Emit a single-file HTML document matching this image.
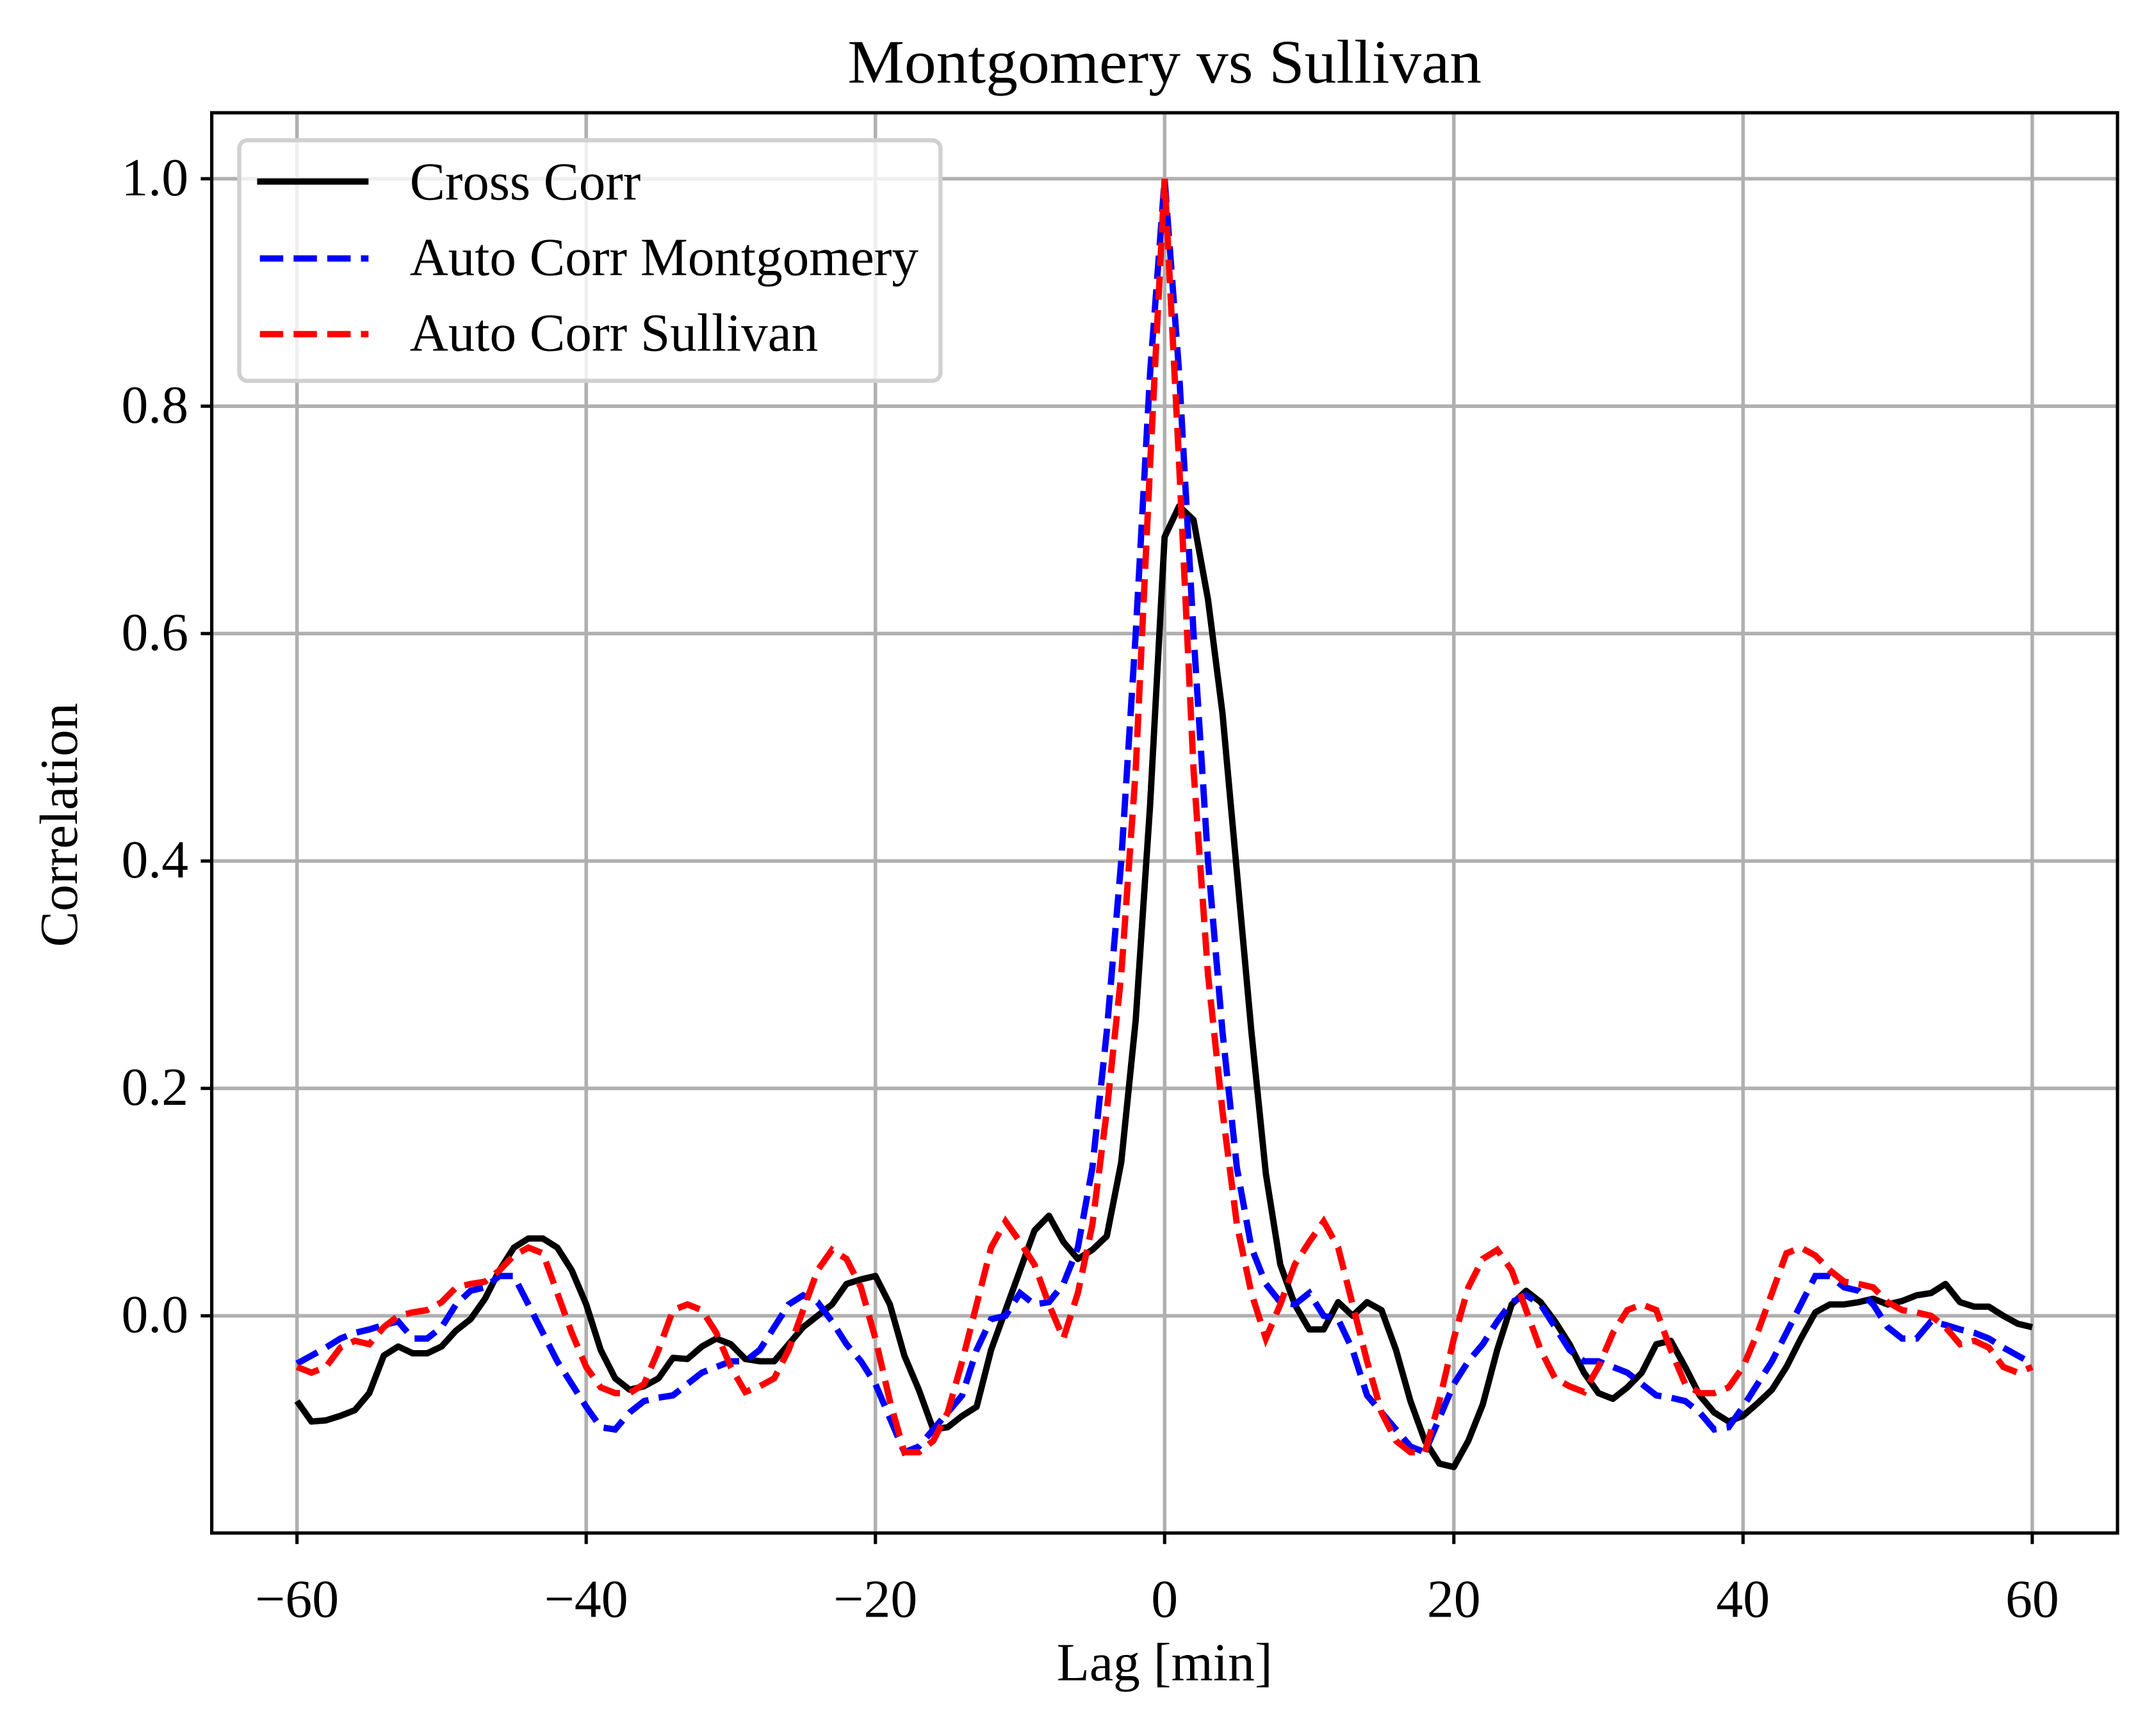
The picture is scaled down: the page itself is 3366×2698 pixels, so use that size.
<!DOCTYPE html>
<html><head><meta charset="utf-8"><style>
html,body{margin:0;padding:0;background:#fff;}
svg{display:block;}
text{font-family:"Liberation Serif","DejaVu Serif",serif;fill:#000;}
</style></head><body>
<svg id="chart" width="3366" height="2698" viewBox="0 0 1568 1256.8" xmlns="http://www.w3.org/2000/svg">
<rect x="0" y="0" width="1568" height="1257" fill="#fff"/>
<g id="grid"></g>
<g id="series"></g>
<rect x="154" y="82" width="1386" height="1033" fill="none" stroke="#000" stroke-width="2.4"/>
<g id="ticks"></g>
<text x="847" y="60" font-size="45" text-anchor="middle" textLength="461" lengthAdjust="spacingAndGlyphs">Montgomery vs Sullivan</text>
<text x="847" y="1222" font-size="39" text-anchor="middle">Lag [min]</text>
<text transform="translate(56,600) rotate(-90)" font-size="39" text-anchor="middle">Correlation</text>
<g>
<rect x="174" y="102" width="510" height="175" rx="6" fill="#fff" fill-opacity="0.8" stroke="#d0d0d0" stroke-width="3"/>
<line x1="187" y1="132" x2="268" y2="132" stroke="#000" stroke-width="4.6"/>
<text x="298" y="145" font-size="39" textLength="168" lengthAdjust="spacingAndGlyphs">Cross Corr</text>
<line x1="189" y1="188" x2="268" y2="188" stroke="#0000ff" stroke-width="4.6" stroke-dasharray="17,7.5"/>
<text x="298" y="200" font-size="39" textLength="370" lengthAdjust="spacingAndGlyphs">Auto Corr Montgomery</text>
<line x1="189" y1="243" x2="268" y2="243" stroke="#ff0000" stroke-width="4.6" stroke-dasharray="17,7.5"/>
<text x="298" y="255" font-size="39" textLength="297" lengthAdjust="spacingAndGlyphs">Auto Corr Sullivan</text>
</g>
</svg>
<script>
const xTicks = [-60,-40,-20,0,20,40,60];
const yTicks = [0.0,0.2,0.4,0.6,0.8,1.0];
const yTickLabels = ["0.0","0.2","0.4","0.6","0.8","1.0"];
const lagStart = -60;
const crossCorr = [-0.075,-0.093,-0.092,-0.088,-0.083,-0.068,-0.035,-0.027,-0.033,-0.033,-0.027,-0.013,-0.003,0.015,0.04,0.06,0.068,0.068,0.06,0.04,0.01,-0.03,-0.055,-0.065,-0.062,-0.055,-0.037,-0.038,-0.027,-0.02,-0.025,-0.038,-0.04,-0.04,-0.025,-0.01,0.0,0.01,0.028,0.032,0.035,0.01,-0.035,-0.065,-0.1,-0.098,-0.088,-0.08,-0.03,0.005,0.04,0.075,0.088,0.065,0.05,0.058,0.07,0.135,0.26,0.45,0.685,0.712,0.7,0.63,0.53,0.39,0.25,0.125,0.045,0.01,-0.012,-0.012,0.012,0.0,0.012,0.005,-0.03,-0.075,-0.11,-0.13,-0.133,-0.11,-0.078,-0.03,0.01,0.022,0.012,-0.005,-0.025,-0.05,-0.068,-0.073,-0.063,-0.05,-0.025,-0.022,-0.045,-0.07,-0.085,-0.093,-0.088,-0.077,-0.065,-0.045,-0.02,0.003,0.01,0.01,0.012,0.015,0.01,0.013,0.018,0.02,0.028,0.012,0.008,0.008,0.0,-0.007,-0.01];
const autoMontgomery = [-0.042,-0.035,-0.028,-0.02,-0.015,-0.012,-0.008,-0.005,-0.02,-0.02,-0.01,0.01,0.022,0.025,0.035,0.035,0.01,-0.015,-0.04,-0.06,-0.08,-0.098,-0.1,-0.085,-0.075,-0.072,-0.07,-0.06,-0.05,-0.045,-0.04,-0.04,-0.03,-0.01,0.01,0.018,0.012,-0.005,-0.025,-0.04,-0.06,-0.09,-0.12,-0.115,-0.1,-0.085,-0.07,-0.03,-0.003,0.0,0.02,0.01,0.012,0.028,0.06,0.13,0.25,0.4,0.6,0.83,1.0,0.83,0.6,0.4,0.25,0.13,0.06,0.028,0.012,0.01,0.02,0.0,-0.003,-0.03,-0.07,-0.085,-0.1,-0.115,-0.12,-0.09,-0.06,-0.04,-0.025,-0.005,0.012,0.018,0.01,-0.01,-0.03,-0.04,-0.04,-0.045,-0.05,-0.06,-0.07,-0.072,-0.075,-0.085,-0.1,-0.098,-0.08,-0.06,-0.04,-0.015,0.01,0.035,0.035,0.025,0.022,0.01,-0.01,-0.02,-0.02,-0.005,-0.008,-0.012,-0.015,-0.02,-0.028,-0.035,-0.042];
const autoSullivan = [-0.045,-0.05,-0.045,-0.028,-0.022,-0.025,-0.01,0.0,0.003,0.005,0.012,0.025,0.028,0.03,0.04,0.053,0.06,0.055,0.02,-0.015,-0.045,-0.063,-0.068,-0.068,-0.06,-0.03,0.005,0.01,0.005,-0.015,-0.045,-0.067,-0.062,-0.055,-0.03,0.005,0.04,0.058,0.05,0.025,-0.02,-0.075,-0.12,-0.12,-0.11,-0.085,-0.04,0.01,0.06,0.083,0.065,0.045,0.01,-0.02,0.02,0.08,0.18,0.3,0.48,0.75,1.0,0.75,0.48,0.3,0.18,0.08,0.02,-0.02,0.01,0.045,0.065,0.083,0.06,0.01,-0.04,-0.085,-0.11,-0.12,-0.12,-0.075,-0.02,0.025,0.05,0.058,0.04,0.005,-0.03,-0.055,-0.062,-0.067,-0.045,-0.015,0.005,0.01,0.005,-0.03,-0.06,-0.068,-0.068,-0.063,-0.045,-0.015,0.02,0.055,0.06,0.053,0.04,0.03,0.028,0.025,0.012,0.005,0.003,0.0,-0.01,-0.025,-0.022,-0.028,-0.045,-0.05,-0.045];

const NS = "http://www.w3.org/2000/svg";
const L = 154, R = 1540, T = 82, B = 1115;
function xs(v){ return 216 + (v + 60) * (1478 - 216) / 120; }
function ys(v){ return 957 - v * (957 - 130); }
function mk(tag, attrs, parent){
  const e = document.createElementNS(NS, tag);
  for (const k in attrs) e.setAttribute(k, attrs[k]);
  parent.appendChild(e);
  return e;
}
const grid = document.getElementById('grid');
const ticks = document.getElementById('ticks');
xTicks.forEach(function(v){
  const g = mk('line', {x1: xs(v), x2: xs(v), y1: T, y2: B, stroke: '#b0b0b0', 'stroke-width': 2.6}, grid);
  
  
  const t = mk('line', {x1: xs(v), x2: xs(v), y1: B, y2: B + 8, stroke: '#000', 'stroke-width': 2.4}, ticks);
  
  
  const lb = mk('text', {x: xs(v), y: 1176, 'font-size': 39, 'text-anchor': 'middle'}, ticks);
  lb.textContent = (v < 0 ? '\u2212' + Math.abs(v) : String(v));
  
  
});
yTicks.forEach(function(v, i){
  const g = mk('line', {x1: L, x2: R, y1: ys(v), y2: ys(v), stroke: '#b0b0b0', 'stroke-width': 2.6}, grid);
  
  
  const t = mk('line', {x1: L - 8, x2: L, y1: ys(v), y2: ys(v), stroke: '#000', 'stroke-width': 2.4}, ticks);
  
  
  const lb = mk('text', {x: 137, y: ys(v) + 12, 'font-size': 39, 'text-anchor': 'end'}, ticks);
  lb.textContent = yTickLabels[i];
  
  
});
function pathOf(arr){
  return arr.map(function(v, i){ return (i ? 'L' : 'M') + xs(lagStart + i).toFixed(2) + ',' + ys(v).toFixed(2); }).join('');
}
const series = document.getElementById('series');
const p0 = mk('path', {d: pathOf(crossCorr), fill: 'none', stroke: '#000', 'stroke-width': 4.6, 'stroke-linejoin': 'round'}, series);


const p1 = mk('path', {d: pathOf(autoMontgomery), fill: 'none', stroke: '#0000ff', 'stroke-width': 4.6, 'stroke-dasharray': '17,7.5'}, series);


const p2 = mk('path', {d: pathOf(autoSullivan), fill: 'none', stroke: '#ff0000', 'stroke-width': 4.6, 'stroke-dasharray': '17,7.5'}, series);


</script>
</body></html>
